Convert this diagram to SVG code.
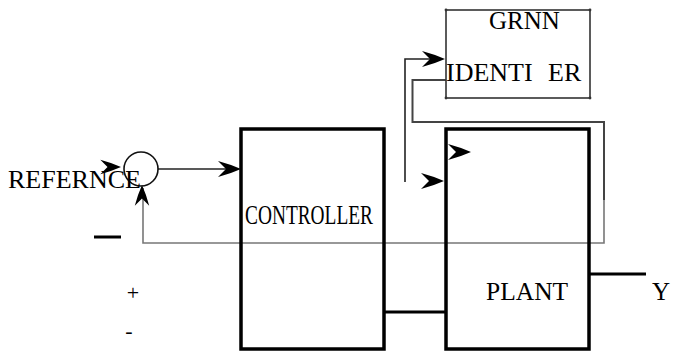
<svg xmlns="http://www.w3.org/2000/svg" xmlns:xlink="http://www.w3.org/1999/xlink" width="676" height="352" viewBox="0 0 676 352">
<style>
text{font-family:"Liberation Serif","Times New Roman",serif;fill:#000}
.box{fill:none;stroke:#000;stroke-width:3.5}
.thin{fill:none;stroke:#333;stroke-width:1.6}
.wire{fill:none;stroke:#222;stroke-width:1.6}
.fb{fill:none;stroke:#777;stroke-width:1.6}
.thick{fill:none;stroke:#000;stroke-width:3}
</style>
<defs>
<path id="ah" d="M0,0 Q-10,-4.5 -23,-8 L-15,0 L-23,8 Q-10,4.5 0,0 Z" fill="#000"/>
</defs>
<rect width="676" height="352" fill="#fff"/>
<g id="connectors">
<path class="wire" d="M158,169 H236"/>
<use xlink:href="#ah" transform="translate(241,169)"/>
<use xlink:href="#ah" transform="translate(121,167) scale(0.9)"/>
<path class="fb" d="M604,200 V243 H143 V188"/>
<use xlink:href="#ah" transform="translate(142,185) rotate(-90) scale(0.9)"/>
<path class="wire" d="M446,80 H412.5 V122 H604 V200" style="stroke:#444;stroke-width:2"/>
<path class="wire" d="M405,182 V59 H440"/>
<use xlink:href="#ah" transform="translate(445,59)"/>
<use xlink:href="#ah" transform="translate(444,181)"/>
<use xlink:href="#ah" transform="translate(471,152)"/>
<path class="thick" d="M384,312 H446"/>
<path class="thick" d="M589,274 H646"/>
<path class="thick" d="M94,237 H121"/>
</g>
<g id="sum">
<circle cx="141" cy="169" r="17" fill="none" stroke="#111" stroke-width="1.6"/>
</g>
<g id="reference-label">
<text x="8" y="188" font-size="26">REFERNCE</text>
</g>
<g id="controller">
<rect class="box" x="241" y="129" width="143" height="220"/>
<text x="245" y="224" font-size="27" textLength="128" lengthAdjust="spacingAndGlyphs">CONTROLLER</text>
</g>
<g id="plant">
<rect class="box" x="446" y="129" width="143" height="220"/>
<text x="486" y="300" font-size="25.5">PLANT</text>
</g>
<g id="grnn">
<rect class="thin" x="446" y="10" width="144" height="88"/>
<circle cx="446" cy="10" r="1.4" fill="#333"/>
<circle cx="590" cy="10" r="1.4" fill="#333"/>
<circle cx="446" cy="98" r="1.4" fill="#333"/>
<circle cx="590" cy="98" r="1.4" fill="#333"/>
<text x="489" y="29" font-size="25">GRNN</text>
<text x="446" y="81" font-size="26">IDENTI</text>
<text x="548" y="81" font-size="26">ER</text>
</g>
<g id="output-label">
<text x="652" y="300" font-size="25">Y</text>
</g>
<g id="signs">
<text x="133" y="300" font-size="22" text-anchor="middle" fill="#444">+</text>
<text x="129" y="338" font-size="22" text-anchor="middle" fill="#444">-</text>
</g>
</svg>
